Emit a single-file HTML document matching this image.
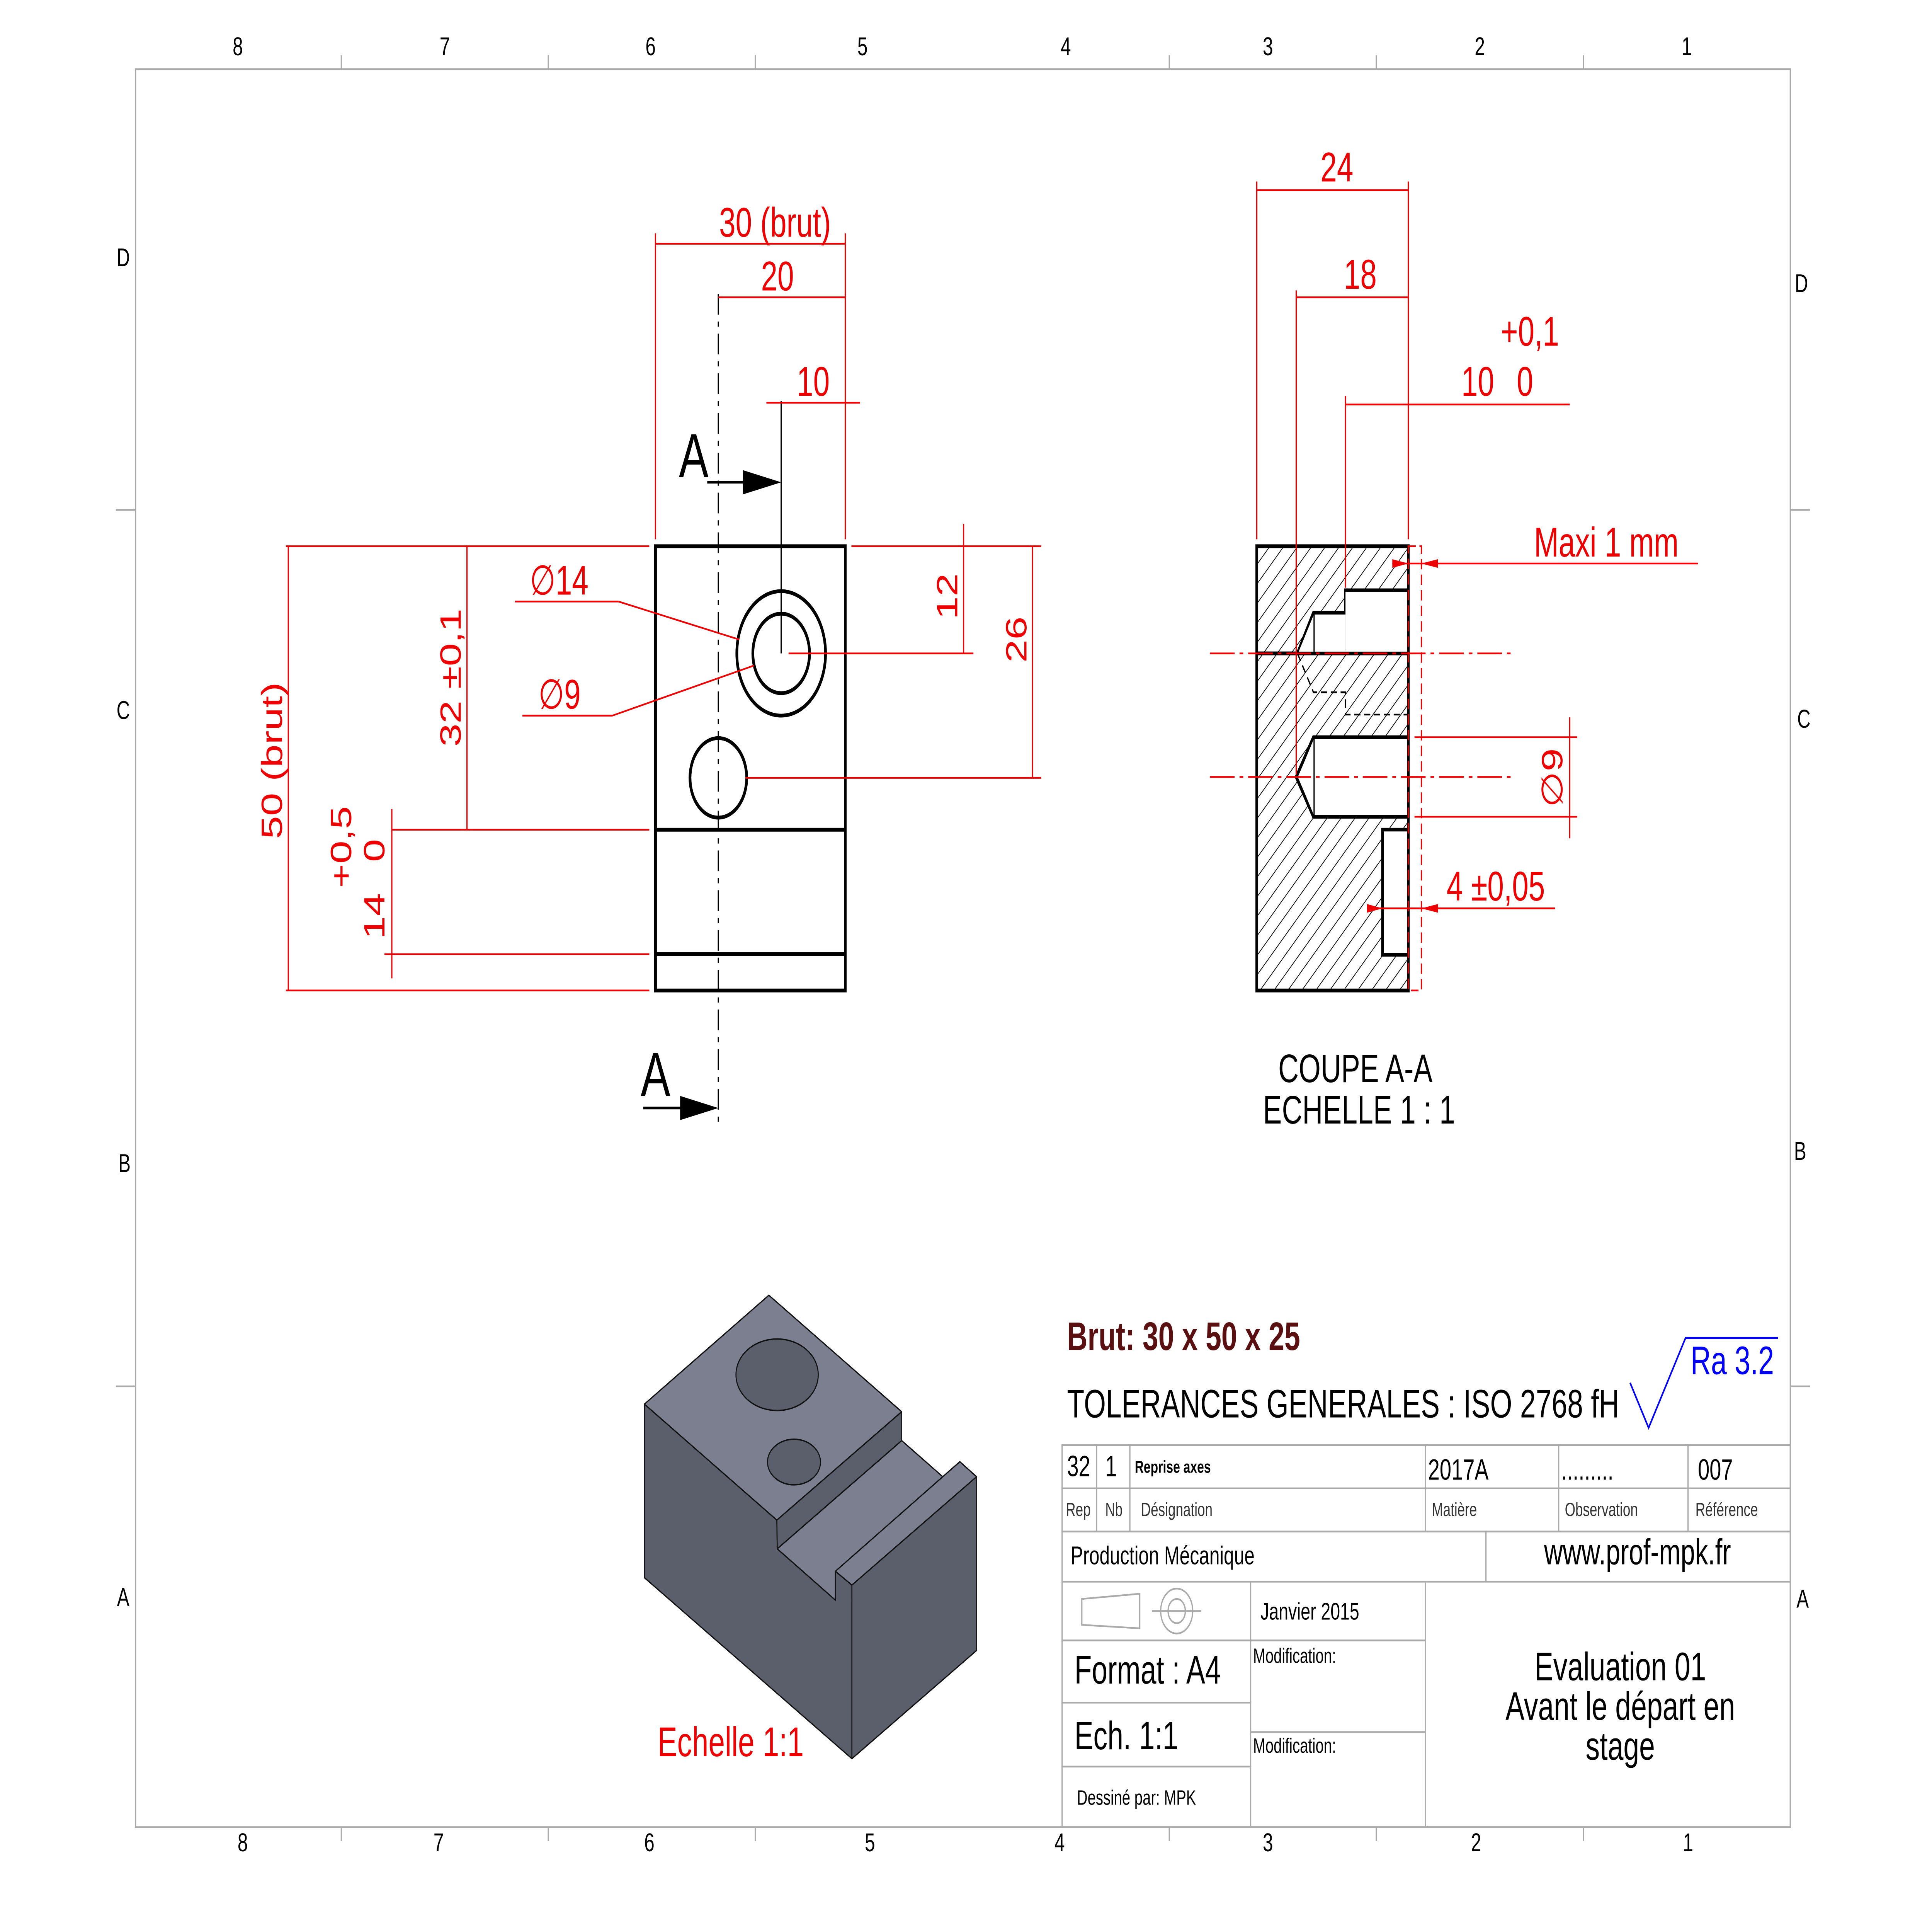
<!DOCTYPE html>
<html><head><meta charset="utf-8"><style>html,body{margin:0;padding:0;background:#fff;width:100%;height:100%;overflow:hidden}svg{display:block;width:100vw;height:100vh}</style></head>
<body>
<svg viewBox="0 0 1568 1109" preserveAspectRatio="none" xmlns="http://www.w3.org/2000/svg" font-family="Liberation Sans, sans-serif">
<defs>
<pattern id="h" width="8" height="8" patternUnits="userSpaceOnUse" patternTransform="rotate(45)"><line x1="0" y1="0" x2="0" y2="8" stroke="#000" stroke-width="1"/></pattern>
</defs>
<rect width="1568" height="1109" fill="#fff"/>
<rect x="110" y="40" width="1343" height="1017" fill="none" stroke="#aaa" stroke-width="1"/>
<g stroke="#aaa" stroke-width="1">
<line x1="277" y1="32" x2="277" y2="40"/><line x1="445" y1="32" x2="445" y2="40"/><line x1="613" y1="32" x2="613" y2="40"/><line x1="949" y1="32" x2="949" y2="40"/><line x1="1117" y1="32" x2="1117" y2="40"/><line x1="1285" y1="32" x2="1285" y2="40"/>
<line x1="277" y1="1057" x2="277" y2="1065"/><line x1="445" y1="1057" x2="445" y2="1065"/><line x1="613" y1="1057" x2="613" y2="1065"/><line x1="949" y1="1057" x2="949" y2="1065"/><line x1="1117" y1="1057" x2="1117" y2="1065"/><line x1="1285" y1="1057" x2="1285" y2="1065"/>
<line x1="94" y1="295" x2="110" y2="295"/><line x1="94" y1="802" x2="110" y2="802"/><line x1="1453" y1="295" x2="1469" y2="295"/><line x1="1453" y1="802" x2="1469" y2="802"/>
</g>
<g font-size="15" fill="#000" text-anchor="middle">
<text x="193" y="32">8</text><text x="361" y="32">7</text><text x="528" y="32">6</text><text x="700" y="32">5</text><text x="865" y="32">4</text><text x="1029" y="32">3</text><text x="1201" y="32">2</text><text x="1369" y="32">1</text>
<text x="197" y="1071">8</text><text x="356" y="1071">7</text><text x="527" y="1071">6</text><text x="706" y="1071">5</text><text x="860" y="1071">4</text><text x="1029" y="1071">3</text><text x="1198" y="1071">2</text><text x="1370" y="1071">1</text>
<text x="100" y="154">D</text><text x="100" y="416">C</text><text x="101" y="678">B</text><text x="100" y="929">A</text>
<text x="1462" y="169">D</text><text x="1464" y="421">C</text><text x="1461" y="671">B</text><text x="1463" y="930">A</text>
</g>

<g stroke="#000" fill="none" stroke-width="2.2">
<rect x="532" y="316" width="154" height="257"/>
<line x1="532" y1="480" x2="686" y2="480"/><line x1="532" y1="552" x2="686" y2="552"/>
<circle cx="634" cy="378" r="36"/><circle cx="634" cy="378" r="23"/><circle cx="583" cy="450" r="23"/>
</g>
<line x1="583" y1="170" x2="583" y2="650" stroke="#000" stroke-width="1" stroke-dasharray="12,4,3,4"/>
<line x1="634" y1="232" x2="634" y2="378" stroke="#000" stroke-width="1"/>
<g stroke="#000" stroke-width="1.5"><line x1="574" y1="279" x2="605" y2="279"/><line x1="522" y1="641" x2="555" y2="641"/></g>
<polygon points="603,272 634,279 603,286" fill="#000"/><polygon points="552,634 583,641 552,648" fill="#000"/>
<text x="563" y="276" font-size="36" text-anchor="middle">A</text><text x="532" y="634" font-size="36" text-anchor="middle">A</text>

<g stroke="#e00" stroke-width="1" fill="none">
<line x1="532" y1="135" x2="532" y2="312"/><line x1="686" y1="135" x2="686" y2="312"/><line x1="532" y1="141" x2="686" y2="141"/>
<line x1="583" y1="172" x2="686" y2="172"/><line x1="622" y1="233" x2="698" y2="233"/>
<line x1="232" y1="316" x2="527" y2="316"/><line x1="232" y1="573" x2="527" y2="573"/><line x1="234" y1="316" x2="234" y2="573"/>
<line x1="318" y1="480" x2="527" y2="480"/><line x1="312" y1="552" x2="527" y2="552"/><line x1="318" y1="468" x2="318" y2="566"/>
<line x1="379" y1="316" x2="379" y2="480"/>
<line x1="691" y1="316" x2="845" y2="316"/><line x1="640" y1="378" x2="790" y2="378"/><line x1="605" y1="450" x2="845" y2="450"/>
<line x1="782" y1="303" x2="782" y2="378"/><line x1="838" y1="316" x2="838" y2="450"/>
<line x1="418" y1="348" x2="502" y2="348"/><line x1="502" y1="348" x2="600" y2="370"/>
<line x1="424" y1="414" x2="497" y2="414"/><line x1="497" y1="414" x2="612" y2="385"/>
</g>
<g fill="#e00" font-size="24">
<text x="629" y="137" text-anchor="middle">30 (brut)</text><text x="631" y="168" text-anchor="middle">20</text><text x="660" y="229" text-anchor="middle">10</text>
<text x="430" y="344">∅14</text><text x="437" y="410">∅9</text>
<text transform="translate(229,440) rotate(-90)" text-anchor="middle">50 (brut)</text>
<text transform="translate(374,392) rotate(-90)" text-anchor="middle">32 ±0,1</text>
<text transform="translate(285,490) rotate(-90)" text-anchor="middle">+0,5</text>
<text transform="translate(312,492) rotate(-90)" text-anchor="middle">0</text>
<text transform="translate(312,530) rotate(-90)" text-anchor="middle">14</text>
<text transform="translate(777,345) rotate(-90)" text-anchor="middle">12</text>
<text transform="translate(833,370) rotate(-90)" text-anchor="middle">26</text>
</g>

<!-- section -->
<path d="M1020,316 H1143 V341.5 H1092 V354.5 H1066 L1053,378 L1143,378 V426.5 H1066 L1052,449.5 L1066,472.5 H1143 V480 H1122 V552.3 H1143 V573 H1020 Z" fill="url(#h)" stroke="none"/>
<g stroke="#000" stroke-width="2.2" fill="none">
<rect x="1020" y="316" width="123" height="257"/>
<path d="M1143,341.5 H1092 V354.5 H1066 L1053,378 M1092,341.5 V378 M1066,354.5 V378"/>
<line x1="1020" y1="378" x2="1143" y2="378"/>
<path d="M1143,426.5 H1066 L1052,449.5 L1066,472.5 H1143 M1066,426.5 V472.5"/>
<path d="M1143,480 H1122 V552.3 H1143"/>
</g>
<rect x="1092" y="342.5" width="50" height="34.5" fill="#fff"/>
<rect x="1067" y="355.5" width="25" height="21.5" fill="#fff"/>
<rect x="1067" y="427.5" width="75" height="44" fill="#fff"/>
<rect x="1123" y="481" width="19" height="70.3" fill="#fff"/>
<polygon points="1066,356 1054,377 1066,377" fill="#fff"/>
<polygon points="1066,428 1053.5,449.5 1066,471" fill="#fff"/>
<g stroke="#000" stroke-width="1" fill="none" stroke-dasharray="5,3">
<path d="M1053,378 L1066,400.5 H1092 V413.4 H1143"/>
</g>
<g stroke="#e00" stroke-width="1" fill="none">
<line x1="982" y1="378" x2="1226" y2="378" stroke-dasharray="20,4,3,4"/><line x1="982" y1="449.5" x2="1226" y2="449.5" stroke-dasharray="20,4,3,4"/>
<line x1="1020" y1="105" x2="1020" y2="312"/><line x1="1143" y1="105" x2="1143" y2="312"/><line x1="1020" y1="110" x2="1143" y2="110"/>
<line x1="1052" y1="168" x2="1052" y2="448"/><line x1="1052" y1="172" x2="1143" y2="172"/>
<line x1="1092" y1="229" x2="1092" y2="340"/><line x1="1092" y1="234" x2="1274" y2="234"/>
<rect x="1143" y="316" width="10.6" height="257" stroke-dasharray="6,3"/>
<line x1="1130" y1="326" x2="1378" y2="326"/>
<line x1="1148" y1="426.5" x2="1280" y2="426.5"/><line x1="1148" y1="472.5" x2="1280" y2="472.5"/><line x1="1274" y1="415" x2="1274" y2="485"/>
<line x1="1109.5" y1="525.5" x2="1262" y2="525.5"/>
</g>
<g fill="#e00">
<polygon points="1130,323.5 1143,326 1130,328.5"/><polygon points="1167,323.5 1153.6,326 1167,328.5"/>
<polygon points="1109.5,523 1122,525.5 1109.5,528"/><polygon points="1167,523 1153.6,525.5 1167,528"/>
</g>
<g fill="#e00" font-size="24">
<text x="1085" y="105" text-anchor="middle">24</text><text x="1104" y="167" text-anchor="middle">18</text>
<text x="1218" y="200">+0,1</text><text x="1186" y="229">10</text><text x="1231" y="229">0</text>
<text x="1245" y="322">Maxi 1 mm</text>
<text transform="translate(1268,450) rotate(-90)" text-anchor="middle">∅9</text>
<text x="1174" y="521">4 ±0,05</text>
</g>
<g font-size="23" text-anchor="middle"><text x="1100" y="626">COUPE A-A</text><text x="1103" y="650">ECHELLE 1 : 1</text></g>

<!-- iso -->
<g stroke="#111" stroke-width="0.8" stroke-linejoin="round">
<polygon points="630.8,896 731.8,833.4 779,863 678,925.7" fill="#7b7f90"/>
<polygon points="678,909 779,845.6 792.6,854.3 691.4,917" fill="#7b7f90"/>
<polygon points="691.4,917 792.6,854.3 792.6,954.8 691.4,1017.4" fill="#5b5f6c"/>
<polygon points="523,812.3 630.5,879.4 630.8,896 678,925.7 678,909 691.4,917 691.4,1017.4 523,912.7" fill="#5b5f6c"/>
<polygon points="523,812.3 624,749.3 731.8,816.7 630.5,879.4" fill="#7b7f90"/>
<polygon points="630.5,879.4 731.8,816.7 731.8,833.4 630.8,896" fill="#5b5f6c"/>
<ellipse cx="630.7" cy="795.3" rx="33.4" ry="20.7" fill="#5b5f6c"/>
<ellipse cx="644.4" cy="845.8" rx="21.5" ry="13.2" fill="#5b5f6c"/>
</g>
<text x="593" y="1016" font-size="24" fill="#e00" text-anchor="middle">Echelle 1:1</text>

<text x="866" y="781" font-size="23" font-weight="bold" fill="#5a1010">Brut: 30 x 50 x 25</text>
<text x="866" y="820" font-size="23">TOLERANCES GENERALES : ISO 2768 fH</text>
<polyline points="1323,800 1338,826 1368,774 1443,774" fill="none" stroke="#00f" stroke-width="1.2"/>
<text x="1372" y="795" font-size="23" fill="#00f">Ra 3.2</text>

<g stroke="#aaa" stroke-width="1" fill="none">
<rect x="862" y="836" width="591" height="221"/>
<line x1="862" y1="861" x2="1453" y2="861"/><line x1="862" y1="886" x2="1453" y2="886"/><line x1="862" y1="915" x2="1453" y2="915"/>
<line x1="890" y1="836" x2="890" y2="886"/><line x1="917" y1="836" x2="917" y2="886"/><line x1="1157" y1="836" x2="1157" y2="886"/><line x1="1265" y1="836" x2="1265" y2="886"/><line x1="1370" y1="836" x2="1370" y2="886"/>
<line x1="1206" y1="886" x2="1206" y2="915"/>
<line x1="1015" y1="915" x2="1015" y2="1057"/><line x1="1157" y1="915" x2="1157" y2="1057"/>
<line x1="862" y1="949" x2="1015" y2="949"/><line x1="862" y1="985" x2="1015" y2="985"/><line x1="862" y1="1022" x2="1015" y2="1022"/>
<line x1="1015" y1="949" x2="1157" y2="949"/><line x1="1015" y1="1002" x2="1157" y2="1002"/>
<polygon points="878,925 925,922 925,942 878,940"/><circle cx="955" cy="932" r="13"/><circle cx="955" cy="932" r="7"/><line x1="935" y1="932" x2="975" y2="932"/>
</g>
<g font-size="17">
<text x="866" y="854">32</text><text x="897" y="854">1</text><text x="921" y="852" font-size="10" font-weight="bold">Reprise axes</text>
<text x="1159" y="856">2017A</text><text x="1267" y="856">.........</text><text x="1378" y="856">007</text>
<g font-size="11" fill="#333"><text x="865" y="877">Rep</text><text x="897" y="877">Nb</text><text x="926" y="877">Désignation</text><text x="1162" y="877">Matière</text><text x="1270" y="877">Observation</text><text x="1376" y="877">Référence</text></g>
<text x="869" y="905" font-size="15">Production Mécanique</text>
<text x="1329" y="905" font-size="21" text-anchor="middle">www.prof-mpk.fr</text>
<text x="1023" y="937" font-size="14">Janvier 2015</text>
<text x="1017" y="962" font-size="12">Modification:</text><text x="1017" y="1014" font-size="12">Modification:</text>
<text x="872" y="974" font-size="23">Format : A4</text><text x="872" y="1012" font-size="23">Ech. 1:1</text>
<text x="874" y="1044" font-size="12">Dessiné par: MPK</text>
<g font-size="23" text-anchor="middle"><text x="1315" y="972">Evaluation 01</text><text x="1315" y="995">Avant le départ en</text><text x="1315" y="1018">stage</text></g>
</g>
</svg>
</body></html>
